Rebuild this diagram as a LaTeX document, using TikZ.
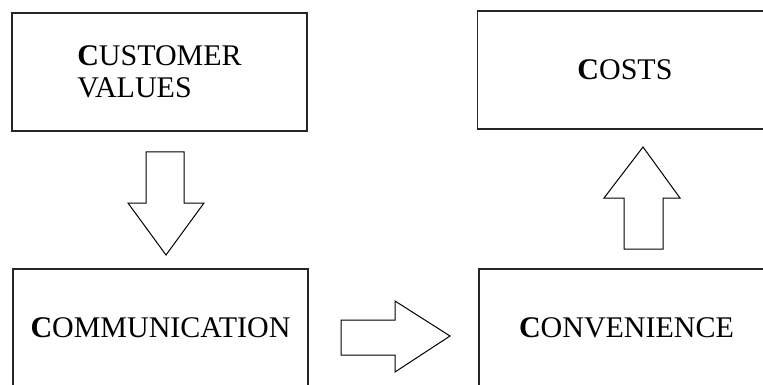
\documentclass[tikz,border=0pt]{standalone}
\usepackage{fontspec}
\setmainfont{Liberation Serif}
\begin{document}
\begin{tikzpicture}[x=1pt,y=-1pt,
  box/.style={draw=black!85,line width=1.6pt,minimum width=295pt,minimum height=118pt,
    inner sep=0pt,align=left,font=\fontsize{30}{32}\selectfont},
  blockarrow/.style={draw=black,line width=1pt,fill=white,line join=miter}]
\useasboundingbox (0,0) rectangle (763,385);
\clip (0,0) rectangle (763,385);
\node[box] (cv) at (159.5,72) {\textbf{C}USTOMER\\VALUES};
\node[box] (costs) at (625,70) {\textbf{C}OSTS};
\node[box] (comm) at (160.5,328) {\textbf{C}OMMUNICATION};
\node[box] (conv) at (626.5,328) {\textbf{C}ONVENIENCE};
% down arrow between cv and comm
\draw[blockarrow] (146,152) -- (184,152) -- (184,203) -- (204,203) -- (166,255)
  -- (128,203) -- (146,203) -- cycle;
% right arrow between comm and conv
\draw[blockarrow] (341,320) -- (395,320) -- (395,301) -- (450,336) -- (395,372)
  -- (395,355) -- (341,355) -- cycle;
% up arrow between conv and costs
\draw[blockarrow] (624,249) -- (624,198) -- (604,198) -- (643,147) -- (680,198)
  -- (663,198) -- (663,249) -- cycle;
\end{tikzpicture}
\end{document}
